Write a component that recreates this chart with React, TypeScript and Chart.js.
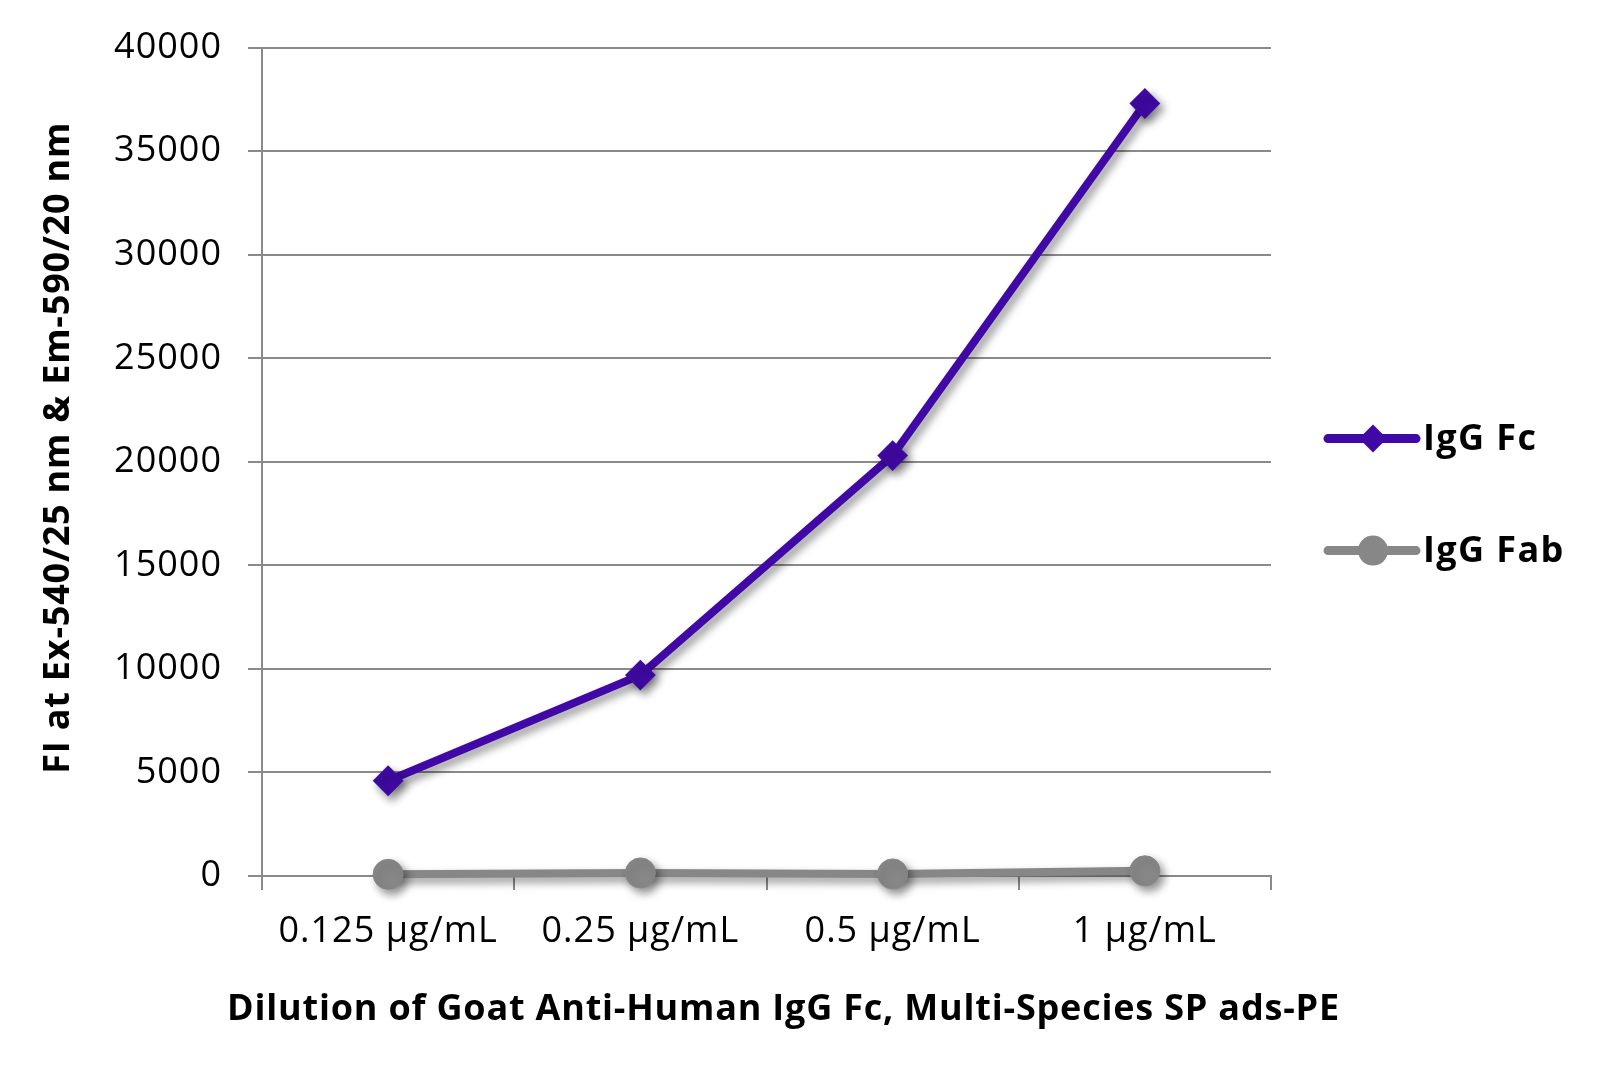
import React, { useEffect, useRef } from 'react';
import { Chart, registerables } from 'chart.js';

Chart.register(...registerables);

const categories = ['0.125 µg/mL', '0.25 µg/mL', '0.5 µg/mL', '1 µg/mL'];
const iggFc = [4600, 9700, 20300, 37300];
const iggFab = [80, 150, 100, 250];
const yTicks = [0, 5000, 10000, 15000, 20000, 25000, 30000, 35000, 40000];
const seriesNames = ['IgG Fc', 'IgG Fab'];
const xTitle = 'Dilution of Goat Anti-Human IgG Fc, Multi-Species SP ads-PE';
const yTitle = 'FI at Ex-540/25 nm & Em-590/20 nm';

const PURPLE = '#4009a5';
const GRAY = '#878787';
const AXIS = '#8a8a8a';
const FONT = '"Open Sans", "Noto Sans", sans-serif';

const shadowPlugin = {
  id: 'shadow',
  beforeDatasetDraw(chart: any) {
    const ctx = chart.ctx;
    ctx.save();
    ctx.shadowColor = 'rgba(0,0,0,0.42)';
    ctx.shadowBlur = 8;
    ctx.shadowOffsetX = 4;
    ctx.shadowOffsetY = 5;
  },
  afterDatasetDraw(chart: any) {
    chart.ctx.restore();
  },
};

const legendPlugin = {
  id: 'sideLegend',
  afterDraw(chart: any) {
    const { ctx, chartArea } = chart;
    const x0 = chartArea.right + 57;
    chart.data.datasets.forEach((ds: any, i: number) => {
      const y = chartArea.top + 391 + i * 112;
      ctx.save();
      ctx.strokeStyle = ds.borderColor;
      ctx.lineWidth = 9;
      ctx.lineCap = 'round';
      ctx.beginPath();
      ctx.moveTo(x0, y);
      ctx.lineTo(x0 + 88, y);
      ctx.stroke();
      const cx = x0 + 45;
      ctx.fillStyle = ds.backgroundColor;
      ctx.beginPath();
      if (ds.pointStyle === 'rectRot') {
        const r = 14;
        ctx.moveTo(cx - r, y);
        ctx.lineTo(cx, y - r);
        ctx.lineTo(cx + r, y);
        ctx.lineTo(cx, y + r);
        ctx.closePath();
      } else {
        ctx.arc(cx, y, 15, 0, Math.PI * 2);
      }
      ctx.fill();
      ctx.fillStyle = '#000';
      ctx.font = `bold 36px ${FONT}`;
      (ctx as any).letterSpacing = '1.4px';
      ctx.textBaseline = 'middle';
      ctx.textAlign = 'left';
      ctx.fillText(ds.label, x0 + 95, y + 1);
      ctx.restore();
    });
  },
};

const bgPlugin = {
  id: 'bg',
  beforeDraw(chart: any) {
    const { ctx, width, height } = chart;
    ctx.save();
    ctx.fillStyle = '#ffffff';
    ctx.fillRect(0, 0, width, height);
    ctx.restore();
  },
};

function styleScaleText(s: any, titleDx: number, titleDy: number) {
  const proto = Object.getPrototypeOf(s);
  s.drawTitle = function () {
    const ctx = this.ctx;
    const origFill = ctx.fillText;
    ctx.save();
    ctx.letterSpacing = '0.8px';
    ctx.translate(titleDx, titleDy);
    // draw the title at its natural width (no maxWidth squeezing)
    ctx.fillText = function (t: string, x: number, y: number) {
      return origFill.call(ctx, t, x, y);
    };
    try {
      proto.drawTitle.call(this);
    } finally {
      ctx.fillText = origFill;
      ctx.restore();
    }
  };
  s.drawLabels = function (area: any) {
    const ctx = this.ctx;
    ctx.save();
    ctx.letterSpacing = '1px';
    proto.drawLabels.call(this, area);
    ctx.restore();
  };
}

export default function App() {
  const canvasRef = useRef<HTMLCanvasElement | null>(null);

  useEffect(() => {
    document.body.style.margin = '0';
    document.body.style.overflow = 'hidden';
    const canvas = canvasRef.current;
    if (!canvas) return;
    const chart = new Chart(canvas, {
      type: 'line',
      data: {
        labels: categories,
        datasets: [
          {
            label: seriesNames[0],
            data: iggFc,
            borderColor: PURPLE,
            backgroundColor: PURPLE,
            borderWidth: 8,
            pointStyle: 'rectRot',
            pointRadius: 14,
            pointBorderWidth: 2,
            pointBorderColor: PURPLE,
            pointBackgroundColor: PURPLE,
            tension: 0,
            clip: false,
          } as any,
          {
            label: seriesNames[1],
            data: iggFab,
            borderColor: GRAY,
            backgroundColor: GRAY,
            borderWidth: 8,
            pointStyle: 'circle',
            pointRadius: 15,
            pointBorderWidth: 1,
            pointBorderColor: GRAY,
            pointBackgroundColor: GRAY,
            tension: 0,
            clip: false,
          } as any,
        ],
      },
      options: {
        animation: false,
        responsive: true,
        maintainAspectRatio: false,
        layout: { padding: { top: 47, right: 337, left: 0, bottom: 0 } },
        plugins: {
          legend: { display: false },
          tooltip: { enabled: false },
        },
        scales: {
          x: {
            type: 'category',
            offset: true,
            grid: {
              offset: true,
              drawOnChartArea: false,
              drawTicks: true,
              tickLength: 14,
              color: AXIS,
              lineWidth: 2,
            },
            border: { display: true, color: AXIS, width: 2 },
            ticks: {
              color: '#000',
              padding: 20,
              maxRotation: 0,
              font: { family: FONT, size: 36 },
            },
            title: {
              display: true,
              text: xTitle,
              color: '#000',
              font: { family: FONT, size: 36, weight: 'bold' },
              padding: { top: 0, bottom: 40 },
            },
            afterFit: (s: any) => {
              s.height = 195;
              styleScaleText(s, 17, 0);
            },
          },
          y: {
            type: 'linear',
            min: 0,
            max: 40000,
            grid: {
              color: AXIS,
              lineWidth: 2,
              drawTicks: true,
              tickLength: 14,
            },
            border: { display: true, color: AXIS, width: 2 },
            afterBuildTicks: (s: any) => {
              s.ticks = yTicks.map((v) => ({ value: v }));
            },
            ticks: {
              color: '#000',
              padding: 26,
              font: { family: FONT, size: 36 },
              callback: (v: any) => String(v),
            },
            title: {
              display: true,
              text: yTitle,
              color: '#000',
              font: { family: FONT, size: 36, weight: 'bold' },
              padding: { top: 37, bottom: 0 },
            },
            afterFit: (s: any) => {
              s.width = 262;
              styleScaleText(s, 0, -14);
            },
          },
        },
      } as any,
      plugins: [bgPlugin, shadowPlugin, legendPlugin],
    });
    return () => chart.destroy();
  }, []);

  return (
    <div style={{ position: 'fixed', left: 0, top: 0, width: 1608, height: 1071 }}>
      <canvas ref={canvasRef} />
    </div>
  );
}
